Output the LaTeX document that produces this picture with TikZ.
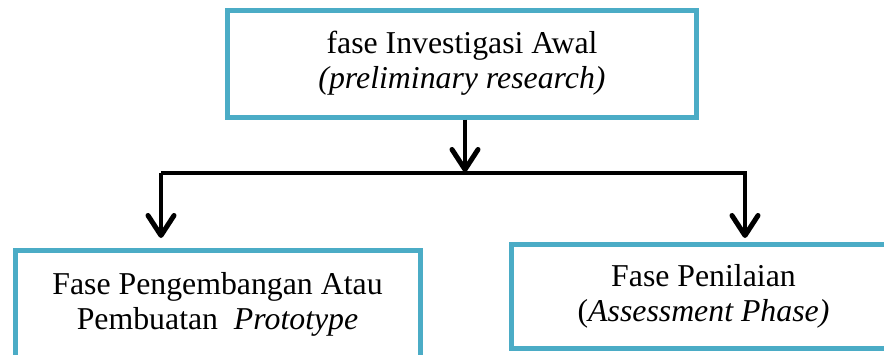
\documentclass[tikz,border=0pt]{standalone}
\usepackage{fontspec}
\setmainfont{Liberation Serif}
\usetikzlibrary{arrows.meta,shadows}
\definecolor{boxblue}{RGB}{75,172,198}
\tikzset{
  phasebox/.style={draw=boxblue, line width=5pt, fill=white, align=center,
    inner sep=0pt, font=\fontsize{31.8}{35}\selectfont,
    drop shadow={opacity=0.2, shadow xshift=1.5pt, shadow yshift=-1.5pt}},
  flowline/.style={line width=4pt, black},
  flowarrow/.style={flowline, -{Straight Barb[length=20pt,width=26pt,line width=1pt 1,round]}}
}

\begin{document}
\begin{tikzpicture}[x=1pt, y=-1pt]
			%%%%% START %%%%%
			\useasboundingbox (0, 0) rectangle (884, 354);
			
			\node[phasebox, minimum width=469pt, minimum height=107pt] (awal) at (462, 63.5)
				{fase Investigasi Awal\\\textit{(preliminary research)}};
			
			\node[phasebox, minimum width=405pt, minimum height=108pt] (kembang) at (217.5, 304.5)
				{Fase Pengembangan Atau\\Pembuatan\ \ \textit{Prototype}};
			
			\node[phasebox, minimum width=384pt, minimum height=104pt] (nilai) at (703.5, 296.5)
				{Fase Penilaian\\(\textit{Assessment Phase)}};
			
			\coordinate (cabang) at (465, 173);
			\coordinate (kiri) at (161, 173);
			\coordinate (kanan) at (745, 173);
			
			\draw[flowarrow] (awal.south -| cabang) -- ([yshift=1pt]cabang);
			\draw[flowarrow] (kiri) -- (kanan) -- ([yshift=4pt]nilai.north -| kanan);
			\draw[flowarrow] (kiri) -- ([yshift=10pt]kembang.north -| kiri);
			%%%%% END %%%%%
\end{tikzpicture}
\end{document}
